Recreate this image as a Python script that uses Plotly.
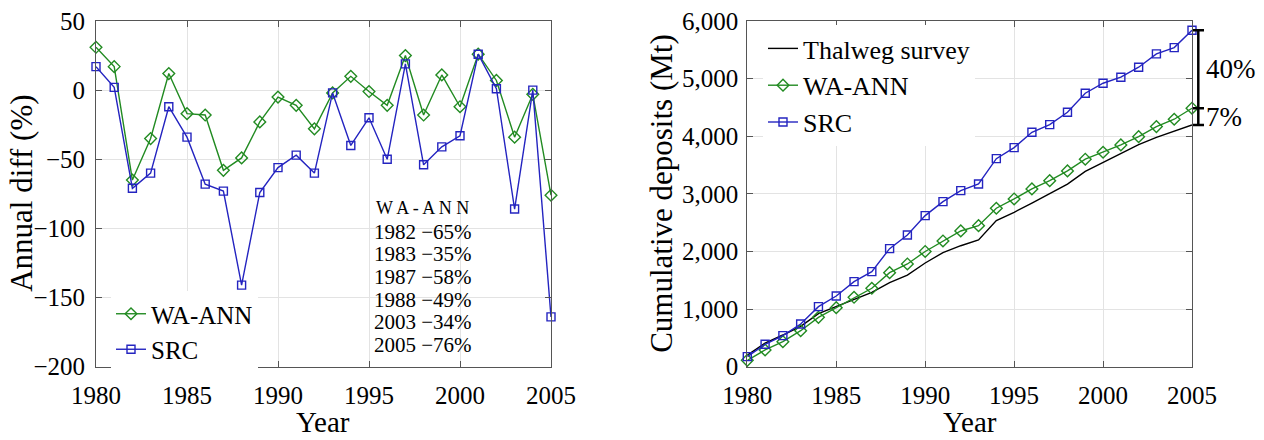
import plotly.graph_objects as go

years = list(range(1980, 2006))

wa_diff = [31, 17, -65, -35, 12, -17, -18, -58, -49, -23, -5, -11, -28, -2, 10,
           -1, -11, 25, -18, 11, -12, 26, 7, -34, -3, -76]
src_diff = [17, 2, -71, -60, -12, -34, -68, -73, -141, -74, -56, -47, -60, -2, -40,
            -20, -50, 19, -54, -41, -33, 26, 1, -86, 0, -164]

thalweg_cum = [200, 410, 550, 700, 920, 1040, 1160, 1290, 1460, 1590, 1800, 1980, 2100,
               2200, 2535, 2680, 2840, 3000, 3170, 3390, 3545, 3700, 3855, 3980, 4090, 4196]
wa_cum = [110, 290, 434, 625, 857, 1024, 1205, 1361, 1632, 1783, 2000, 2182, 2356,
          2448, 2750, 2911, 3085, 3229, 3398, 3601, 3722, 3849, 3993, 4167, 4295, 4486]
src_cum = [174, 389, 540, 741, 1042, 1227, 1476, 1650, 2049, 2286, 2622, 2865, 3056,
           3172, 3611, 3802, 4069, 4201, 4417, 4747, 4920, 5024, 5198, 5429, 5538, 5840]

table_title = "WA-ANN"
table_rows = ["1982 \u221265%", "1983 \u221235%", "1987 \u221258%",
              "1988 \u221249%", "2003 \u221234%", "2005 \u221276%"]
bracket_labels = ["40%", "7%"]

FONT = "Liberation Serif"
GREEN = "#228b22"
BLUE = "#2424c0"
AXC = "#555555"
GRID = "#e3e3e3"

W, H = 1264, 440
def px_x(p):
    return p / W
def px_y(p):
    return 1 - p / H

xl = [px_x(96), px_x(551)]
xr = [px_x(747.3), px_x(1192)]
yd = [px_y(366.7), px_y(21)]

fig = go.Figure()

fig.add_trace(go.Scatter(x=years, y=wa_diff, name="WA-ANN", mode="lines+markers",
                         line=dict(color=GREEN, width=1.4),
                         marker=dict(symbol="diamond-open", size=9, color=GREEN, line=dict(width=1.4)),
                         cliponaxis=False, xaxis="x", yaxis="y", legend="legend"))
fig.add_trace(go.Scatter(x=years, y=src_diff, name="SRC", mode="lines+markers",
                         line=dict(color=BLUE, width=1.4),
                         marker=dict(symbol="square-open", size=8, color=BLUE, line=dict(width=1.4)),
                         cliponaxis=False, xaxis="x", yaxis="y", legend="legend"))

fig.add_trace(go.Scatter(x=years, y=thalweg_cum, name="Thalweg survey", mode="lines",
                         line=dict(color="black", width=1.4),
                         cliponaxis=False, xaxis="x2", yaxis="y2", legend="legend2"))
fig.add_trace(go.Scatter(x=years, y=wa_cum, name="WA-ANN", mode="lines+markers",
                         line=dict(color=GREEN, width=1.4),
                         marker=dict(symbol="diamond-open", size=9, color=GREEN, line=dict(width=1.4)),
                         cliponaxis=False, xaxis="x2", yaxis="y2", legend="legend2"))
fig.add_trace(go.Scatter(x=years, y=src_cum, name="SRC", mode="lines+markers",
                         line=dict(color=BLUE, width=1.4),
                         marker=dict(symbol="square-open", size=8, color=BLUE, line=dict(width=1.4)),
                         cliponaxis=False, xaxis="x2", yaxis="y2", legend="legend2"))

axis_common = dict(showline=True, linecolor=AXC, linewidth=1, mirror="ticks",
                   ticks="inside", ticklen=6, tickcolor=AXC, tickwidth=1,
                   showgrid=True, gridcolor=GRID, gridwidth=1, zeroline=False,
                   automargin=False,
                   tickfont=dict(family=FONT, size=25, color="black"))

fig.update_layout(
    width=W, height=H,
    margin=dict(l=0, r=0, t=0, b=0, autoexpand=False),
    paper_bgcolor="white", plot_bgcolor="white",
    xaxis=dict(domain=xl, range=[1980, 2005], tickvals=list(range(1980, 2006, 5)),
               anchor="y", ticklabelstandoff=6, **axis_common),
    yaxis=dict(domain=yd, range=[-200, 50], tickvals=list(range(-200, 51, 50)),
               anchor="x", ticklabelstandoff=5, **axis_common),
    xaxis2=dict(domain=xr, range=[1980, 2005], tickvals=list(range(1980, 2006, 5)),
                anchor="y2", ticklabelstandoff=6, **axis_common),
    yaxis2=dict(domain=yd, range=[0, 6000], tickvals=list(range(0, 6001, 1000)),
                tickformat=",d", anchor="x2", ticklabelstandoff=3, **axis_common),
    legend=dict(x=px_x(111), y=px_y(291), xanchor="left", yanchor="top",
                bgcolor="white", borderwidth=0,
                font=dict(family=FONT, size=25, color="black"), itemwidth=30,
                tracegroupgap=0),
    legend2=dict(x=px_x(763), y=px_y(25), xanchor="left", yanchor="top",
                 bgcolor="white", borderwidth=0,
                 font=dict(family=FONT, size=26, color="black"), itemwidth=30,
                 tracegroupgap=0),
    showlegend=True,
)

ann = []
# axis titles
ann.append(dict(text="Annual diff (%)", xref="paper", yref="paper", x=px_x(22),
                y=(yd[0] + yd[1]) / 2, textangle=-90, showarrow=False,
                xanchor="center", yanchor="middle", font=dict(family=FONT, size=31, color="black")))
ann.append(dict(text="Cumulative deposits (Mt)", xref="paper", yref="paper", x=px_x(662),
                y=(yd[0] + yd[1]) / 2, textangle=-90, showarrow=False,
                xanchor="center", yanchor="middle", font=dict(family=FONT, size=31, color="black")))
ann.append(dict(text="Year", xref="paper", yref="paper", x=(xl[0] + xl[1]) / 2, y=0,
                showarrow=False, xanchor="center", yanchor="bottom",
                font=dict(family=FONT, size=29, color="black")))
ann.append(dict(text="Year", xref="paper", yref="paper", x=(xr[0] + xr[1]) / 2, y=0,
                showarrow=False, xanchor="center", yanchor="bottom",
                font=dict(family=FONT, size=29, color="black")))

# table in left panel
ann.append(dict(text="W A - A N N", xref="paper", yref="paper", x=px_x(422), y=px_y(208),
                showarrow=False, xanchor="center", yanchor="middle",
                font=dict(family=FONT, size=18, color="black")))
for i, row in enumerate(table_rows):
    ann.append(dict(text=row, xref="paper", yref="paper", x=px_x(423), y=px_y(231.5 + i * 22.7),
                    showarrow=False, xanchor="center", yanchor="middle",
                    font=dict(family=FONT, size=21, color="black")))

# bracket labels
top, mid, bot = src_cum[-1], wa_cum[-1], thalweg_cum[-1]
ann.append(dict(text=bracket_labels[0], xref="paper", yref="y2", x=px_x(1204), y=(top + mid) / 2,
                showarrow=False, xanchor="left", yanchor="middle",
                font=dict(family=FONT, size=27, color="black")))
ann.append(dict(text=bracket_labels[1], xref="paper", yref="y2", x=px_x(1204), y=(mid + bot) / 2,
                showarrow=False, xanchor="left", yanchor="middle",
                font=dict(family=FONT, size=27, color="black")))
fig.update_layout(annotations=ann)

bx = px_x(1198.3)
shapes = [dict(type="line", xref="paper", yref="y2", x0=bx, x1=bx, y0=bot, y1=top,
               line=dict(color="black", width=2.5))]
for yv in (top, mid, bot):
    shapes.append(dict(type="line", xref="paper", yref="y2", x0=px_x(1193), x1=px_x(1204),
                       y0=yv, y1=yv, line=dict(color="black", width=2.5)))
fig.update_layout(shapes=shapes)

fig.write_html("out.html")
